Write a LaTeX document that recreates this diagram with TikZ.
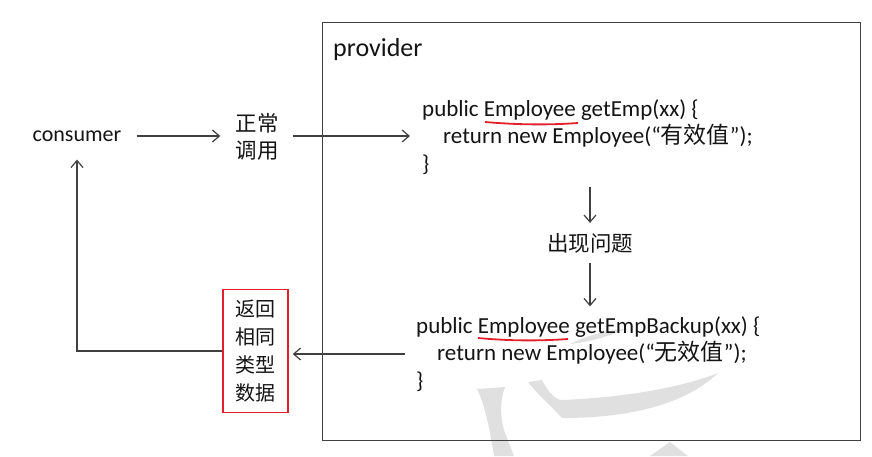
\documentclass[tikz,border=0pt]{standalone}
\usepackage{fontspec}
\setmainfont{Carlito}
\newfontfamily\cjk{Noto Sans CJK SC}
\usetikzlibrary{arrows.meta}
\definecolor{ink}{HTML}{141414}
\definecolor{ln}{HTML}{404040}
\definecolor{redl}{HTML}{E3202A}
\definecolor{wm}{HTML}{E0E0E0}
\begin{document}
\begin{tikzpicture}[x=1pt,y=-1pt,
  txt/.style={inner sep=0pt, text=ink, font=\fontsize{22}{27}\selectfont},
  cjkt/.style={inner sep=0pt, text=ink, align=center, font=\cjk\fontsize{21.5}{27}\selectfont},
  code/.style={inner sep=0pt, text=ink, align=left, anchor=west, font=\fontsize{23}{27.5}\selectfont},
  arr/.style={draw=ln, line width=1.2pt, -{Straight Barb[length=7pt,width=12pt]}},
  uline/.style={draw=redl, line width=1.8pt}]
\useasboundingbox (0,0) rectangle (872,456);
% watermark
\fill[wm] (477,389) -- (505,387) .. controls (500,400) and (500,415) .. (504,430) -- (514,456) -- (494,456) .. controls (490,430) and (485,405) .. cycle;
\fill[wm] (528,382) -- (542,380) .. controls (548,392) and (554,398) .. (560,400)
  .. controls (620,398) and (680,388) .. (718,373)
  .. controls (690,400) and (640,418) .. (562,418)
  .. controls (550,405) and (538,395) .. cycle;
\fill[wm] (650,456) -- (670,442) -- (688,456) -- cycle;
\fill[wm] (570,344) .. controls (590,334) and (610,330) .. (625,329) .. controls (610,336) and (590,342) .. cycle;
% provider box
\node[draw=ln, line width=1.3pt, minimum width=538pt, minimum height=418pt, anchor=north west, inner sep=0pt] (prov) at (322,22) {};
\node[inner sep=0pt, text=ink, anchor=base west, font=\fontsize{26}{30}\selectfont] (provlbl) at (333,56) {provider};
% nodes
\node[txt] (cons) at (77,136) {consumer};
\node[cjkt] (call) at (257,137) {正常\\调用};
\node[code] (m1) at (422,137) {public Employee getEmp(xx) \{\\\hspace*{21pt}return new Employee(“{\cjk 有效值}”);\\\}};
\node[cjkt] (q) at (590,243) {出现问题};
\node[code] (m2) at (416,354) {public Employee getEmpBackup(xx) \{\\\hspace*{21pt}return new Employee(“{\cjk 无效值}”);\\\}};
\node[draw=redl, line width=1.5pt, minimum width=65pt, minimum height=123pt, inner sep=0pt, text=ink, align=center, font=\cjk\fontsize{20}{28}\selectfont] (ret) at (255.5,351) {返回\\相同\\类型\\数据};
% underlines
\draw[uline] (485,122) .. controls (520,125) and (550,125) .. (578,123);
\draw[uline] (478,338) .. controls (510,341) and (540,341) .. (568,339);
% connectors
\draw[arr, shorten <=15pt, shorten >=15pt] (cons.east) -- (call.west |- cons.east);
\draw[arr, shorten <=14pt, shorten >=12pt] (call.east |- cons.east) -- (m1.west |- cons.east);
\draw[arr, shorten <=12pt, shorten >=10pt] (q.north |- m1.south) -- (q.north);
\draw[arr, shorten <=10pt, shorten >=10pt] (q.south) -- (q.south |- m2.north);
\draw[arr, shorten <=11pt, shorten >=4pt] (m2.west) -- (m2.west -| ret.east);
\draw[arr, shorten >=18pt] (ret.west) -- (ret.west -| cons.south) -- (cons.south);
\end{tikzpicture}
\end{document}
